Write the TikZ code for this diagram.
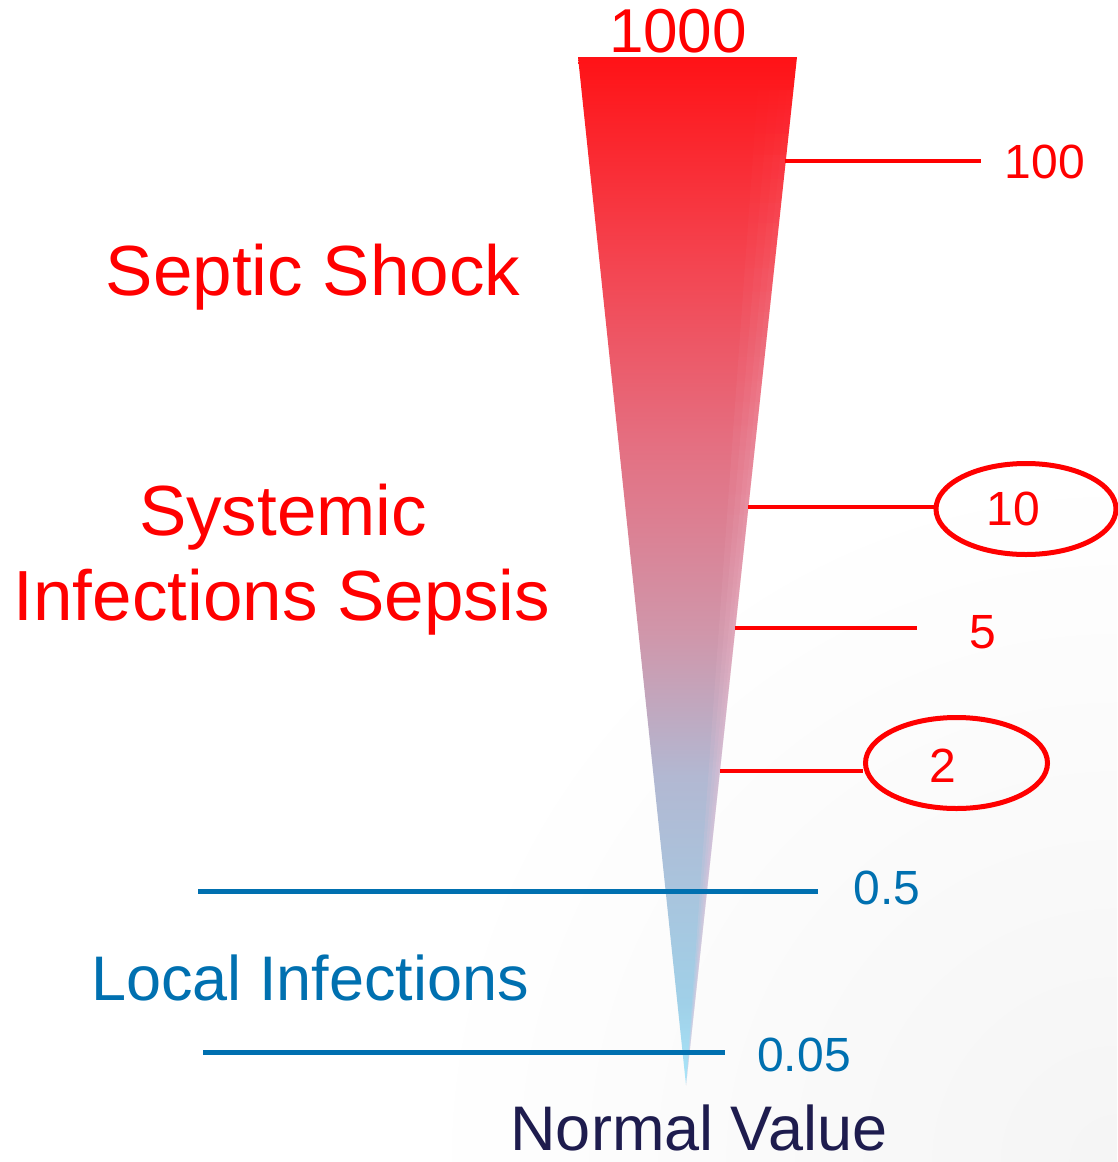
\documentclass[tikz,border=0pt]{standalone}
\usepackage{fontspec}
\setmainfont{Liberation Sans}
\usetikzlibrary{shapes.geometric,fadings}
\definecolor{tred}{RGB}{255,0,0}
\definecolor{tblue}{RGB}{0,112,176}
\definecolor{tnavy}{RGB}{30,28,78}
\definecolor{c1}{RGB}{255,18,22}
\definecolor{c2}{RGB}{244,68,80}
\definecolor{c3}{RGB}{228,112,130}
\definecolor{c4}{RGB}{208,150,170}
\definecolor{c5}{RGB}{178,184,210}
\definecolor{c6}{RGB}{160,208,232}
\definecolor{c7}{RGB}{168,230,250}
\definecolor{glow}{RGB}{255,200,218}
\pgfdeclareverticalshading{conegrad}{100bp}{
  color(0bp)=(c7); color(25bp)=(c7); color(29bp)=(c6); color(40bp)=(c5); color(47bp)=(c4);
  color(56bp)=(c3); color(65bp)=(c2); color(75bp)=(c1); color(100bp)=(c1)}
\tikzset{
  big/.style={font=\fontsize{71}{84}\selectfont, anchor=base},
  tick/.style={font=\fontsize{48}{56}\selectfont, anchor=base},
  redline/.style={draw=tred, line width=4pt},
  blueline/.style={draw=tblue, line width=5pt},
  ring/.style={ellipse, draw=tred, line width=5pt, inner sep=0pt},
  sliver/.style={fill=glow, opacity=0.18, path fading=north}
}
\begin{document}
\begin{tikzpicture}[x=1pt,y=-1pt]
\useasboundingbox (0,0) rectangle (1117,1162);
% background
\begin{scope}
\clip (0,0) rectangle (1117,1162);
\shade[inner color=black!4, outer color=white] (1117,1162) circle (700);
\end{scope}
% cone
\coordinate (tl) at (578,57);
\coordinate (tr) at (797,57);
\coordinate (tip) at (686,1085);
\shade[shading=conegrad] (tl) -- (tr) -- (tip) -- cycle;
\fill[sliver] (760,57) -- (tr) -- (tip) -- cycle;
\fill[sliver] (772,57) -- (tr) -- (tip) -- cycle;
\fill[sliver] (782,57) -- (tr) -- (tip) -- cycle;
\fill[sliver] (790,57) -- (tr) -- (tip) -- cycle;
% edge coordinates
\coordinate (e100) at (785,161);
\coordinate (e10) at (748,507);
\coordinate (e5) at (735,628);
\coordinate (e2) at (720,771);
% red ticks
\coordinate (r100) at (981,161);
\coordinate (r5) at (917,628);
\node[ring, minimum width=180pt, minimum height=91pt] (o10) at (1026,509) {};
\node[ring, minimum width=182pt, minimum height=91pt] (o2) at (956.5,763) {};
\draw[redline] (e100) -- (r100);
\draw[redline] (e10) -- (o10.west |- e10);
\draw[redline] (e5) -- (r5);
\draw[redline] (e2) -- (o2.west |- e2);
\node[tick, text=tred] (t100) at (1045,178) {100};
\node[tick, text=tred] (t10) at (1013,525) {10};
\node[tick, text=tred] (t5) at (983,648) {5};
\node[tick, text=tred] (t2) at (943,782) {2};
% blue ticks
\coordinate (b05a) at (198,891);
\coordinate (b05b) at (818,891);
\coordinate (b005a) at (203,1052);
\coordinate (b005b) at (725,1052);
\draw[blueline] (b05a) -- (b05b);
\draw[blueline] (b005a) -- (b005b);
\node[tick, text=tblue] (t05) at (887,904) {0.5};
\node[tick, text=tblue] (t005) at (804,1071) {0.05};
% labels
\node[anchor=base, text=tred, font=\fontsize{62}{70}\selectfont] (t1000) at (678,52) {1000};
\node[big, text=tred] (septic) at (313,295) {Septic Shock};
\node[big, text=tred] (sys1) at (283,535) {Systemic};
\node[big, text=tred] (sys2) at (282,620) {Infections Sepsis};
\node[anchor=base, text=tblue, font=\fontsize{63}{70}\selectfont] (local) at (310,1000) {Local Infections};
\node[anchor=base, inner sep=0pt, text=tnavy, font=\fontsize{63}{70}\selectfont] (normal) at (699,1150) {Normal Value};
\end{tikzpicture}
\end{document}
